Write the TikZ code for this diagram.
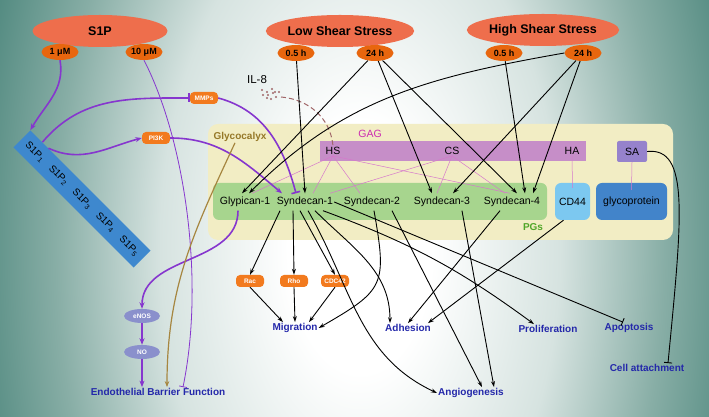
\documentclass[tikz,border=0pt]{standalone}
\usepackage{fontspec}
\setmainfont{Liberation Sans}
\usetikzlibrary{shapes,arrows.meta,positioning,calc}

\definecolor{bgteal}{RGB}{76,134,124}
\definecolor{bgmid}{RGB}{136,174,166}
\definecolor{bglight}{RGB}{214,227,224}
\definecolor{coral}{RGB}{238,110,76}
\definecolor{dosecol}{RGB}{232,102,14}
\definecolor{kincol}{RGB}{242,122,30}
\definecolor{recblue}{RGB}{62,136,206}
\definecolor{purp}{RGB}{134,54,206}
\definecolor{olive}{RGB}{166,134,64}
\definecolor{ildash}{RGB}{160,102,104}
\definecolor{pinkln}{RGB}{214,120,204}
\definecolor{glyfill}{RGB}{242,237,196}
\definecolor{gagfill}{RGB}{198,142,200}
\definecolor{safill}{RGB}{150,130,204}
\definecolor{pgfill}{RGB}{167,213,142}
\definecolor{cdfill}{RGB}{124,200,240}
\definecolor{gpfill}{RGB}{66,132,202}
\definecolor{outblue}{RGB}{36,40,170}
\definecolor{lav}{RGB}{138,144,204}
\definecolor{gagtext}{RGB}{204,44,176}
\definecolor{pgtext}{RGB}{80,166,40}
\definecolor{glytext}{RGB}{150,120,40}

% the middle 50bp square of a shading is fitted to the path
\pgfdeclareradialshading{bgglow}{\pgfpoint{0bp}{0bp}}{color(0bp)=(white); color(4.5bp)=(white); color(12.5bp)=(bglight); color(19bp)=(bgmid); color(25bp)=(bgteal); color(50bp)=(bgteal)}

\tikzset{
  stress/.style={ellipse, fill=coral, minimum width=135pt, minimum height=32pt, inner sep=0pt, font=\fontsize{12.5}{14}\selectfont\bfseries},
  dose/.style={ellipse, fill=dosecol, minimum width=37pt, minimum height=16pt, inner sep=0pt, font=\fontsize{9}{10}\selectfont\bfseries},
  kinase/.style={fill=kincol, rounded corners=4pt, text=white, minimum width=28pt, minimum height=12pt, inner sep=1pt, font=\fontsize{6.5}{7}\selectfont\bfseries},
  enzyme/.style={ellipse, fill=lav, text=white, minimum width=36pt, minimum height=14pt, inner sep=0pt, font=\fontsize{6.5}{7}\selectfont\bfseries},
  member/.style={minimum height=17pt, inner sep=1pt, font=\fontsize{10.5}{12}\selectfont},
  tag/.style={inner sep=1pt, font=\fontsize{10.5}{12}\selectfont},
  outcome/.style={text=outblue, inner sep=1pt, font=\fontsize{10}{12}\selectfont\bfseries},
  blk/.style={line width=0.9pt, -{Stealth[length=6pt,width=4pt]}},
  inh/.style={line width=0.9pt, -{Bar[width=8pt]}},
  pth/.style={purp, line width=1.6pt, -{Stealth[length=6.5pt,width=5pt]}},
  pinh/.style={purp, line width=1.6pt, -{Bar[width=9pt]}},
  pink/.style={pinkln, line width=0.5pt},
}

\begin{document}
\begin{tikzpicture}[x=1pt,y=1pt]
    \useasboundingbox (0,0) rectangle (709,417);
    % background
    \begin{scope}
      \clip (0,0) rectangle (709,417);
      \shade[shading=bgglow] (-40,-530) rectangle (760,870);
    \end{scope}

    % Glycocalyx layer
    \node[fill=glyfill, rounded corners=10pt, minimum width=465pt, minimum height=116pt, inner sep=0pt] (glyx) at (440.5,235) {};
    \node[fill=gagfill, minimum width=266pt, minimum height=20pt, inner sep=0pt] (gag) at (453,266) {};
    \node[fill=pgfill, rounded corners=6pt, minimum width=334pt, minimum height=37pt, inner sep=0pt] (pgs) at (380,215.5) {};
    \node[fill=safill, rounded corners=2pt, minimum width=30pt, minimum height=21pt, inner sep=0pt, font=\fontsize{10.5}{12}\selectfont] (sa) at (632,265.5) {SA};
    \node[fill=cdfill, rounded corners=6pt, minimum width=35pt, minimum height=37pt, inner sep=0pt, font=\fontsize{10.5}{12}\selectfont] (cd44) at (572.5,215.5) {CD44};
    \node[fill=gpfill, rounded corners=6pt, minimum width=71pt, minimum height=37pt, inner sep=0pt, font=\fontsize{10.5}{12}\selectfont] (gp) at (631.5,215.5) {glycoprotein};
    \node[text=glytext, inner sep=1pt, font=\fontsize{10}{12}\selectfont\bfseries] (glylab) at (240,280) {Glycocalyx};
    \node[text=gagtext, tag] (gaglab) at (370,283) {GAG};
    \node[text=pgtext, inner sep=1pt, font=\fontsize{10}{12}\selectfont\bfseries] (pgslab) at (533,190) {PGs};
    \node[tag] (hs) at (333,266) {HS};
    \node[tag] (cs) at (452,266) {CS};
    \node[tag] (ha) at (572,266) {HA};

    % PGs
    \node[member] (glyp) at (245,215) {Glypican-1};
    \node[member] (syn1) at (305,215) {Syndecan-1};
    \node[member] (syn2) at (372,215) {Syndecan-2};
    \node[member] (syn3) at (442,215) {Syndecan-3};
    \node[member] (syn4) at (512,215) {Syndecan-4};

    % stimuli
    \node[stress] (s1p) at (100,386) {S1P};
    \node[dose] (d1) at (60,365) {1 μM};
    \node[dose] (d10) at (144,365) {10 μM};
    \node[stress] (lss) at (340,386) {Low Shear Stress};
    \node[dose] (ls05) at (296,364) {0.5 h};
    \node[dose] (ls24) at (375,364) {24 h};
    \node[stress] (hss) at (543,387) {High Shear Stress};
    \node[dose] (hs05) at (504,364) {0.5 h};
    \node[dose] (hs24) at (583,364) {24 h};

    % S1P receptors
    \node[fill=recblue, rotate=-45, minimum width=170pt, minimum height=24pt, inner sep=0pt, font=\fontsize{10}{12}\selectfont] (rec) at (82,218)
      {S1P\textsubscript{1}\hspace{10pt}S1P\textsubscript{2}\hspace{10pt}S1P\textsubscript{3}\hspace{10pt}S1P\textsubscript{4}\hspace{10pt}S1P\textsubscript{5}};

    % signalling molecules
    \node[kinase] (mmp) at (204,319) {MMPs};
    \node[kinase] (pi3k) at (156,279) {PI3K};
    \node[kinase] (rac) at (250,136) {Rac};
    \node[kinase] (rho) at (294,136) {Rho};
    \node[kinase] (cdc) at (335,136) {CDC42};
    \node[enzyme] (enos) at (142,101) {eNOS};
    \node[enzyme] (no) at (142,65) {NO};
    \node[inner sep=1pt, font=\fontsize{11.5}{13}\selectfont] (il8) at (257,337) {IL-8};
    \coordinate (il8c) at (271,323);
    \coordinate (il8tail) at (281,320);
    \foreach \dx/\dy in {-9/4,-4/2,1/5,4/2,8/2,-8/-1,-3/-1,2/1,-4/-4,0/-5,5/-3}
      \fill[ildash] ($(il8c)+(\dx,\dy)$) circle (1.2pt);

    % outcomes
    \node[outcome] (ebf) at (158,25) {Endothelial Barrier Function};
    \node[outcome] (mig) at (295,89) {Migration};
    \node[outcome] (adh) at (408,89) {Adhesion};
    \node[outcome] (pro) at (548,88) {Proliferation};
    \node[outcome] (apo) at (629,89) {Apoptosis};
    \node[outcome] (cell) at (647,49) {Cell attachment};
    \node[outcome] (ang) at (471,24) {Angiogenesis};

    % GAG chains
    \draw[pink] (hs.south) -- ([xshift=7pt]glyp.north);
    \draw[pink] (hs.south) -- ([xshift=8pt]syn1.north);
    \draw[pink] (hs.south) -- ([xshift=-12pt]syn2.north);
    \draw[pink] (hs.south) -- ([xshift=-2pt]syn4.north);
    \draw[pink] (cs.south) -- ([xshift=25pt]syn1.north);
    \draw[pink] (cs.south) -- ([xshift=-5pt]syn3.north);
    \draw[pink] (cs.south) -- ([xshift=-7pt]syn4.north);
    \draw[pink] (ha.south) -- ([yshift=-5pt]cd44.north);
    \draw[pink] (sa.south) -- ([yshift=-7pt]gp.north);

    % S1P pathway
    \draw[pth] (d1.south) to[out=-80,in=60] (rec.north west);
    \draw[purp, line width=0.8pt, -{Bar[width=8pt]}] (d10.south) .. controls (185,277) and (205,137) .. ([xshift=25pt]ebf.north);
    \draw[pinh] ($(rec.north west)!0.1!(rec.north east)$) to[out=50,in=180] (mmp.west);
    \draw[pth] ($(rec.north west)!0.15!(rec.north east)$) to[out=-25,in=195] (pi3k.west);
    \draw[pth] (pi3k.east) to[out=0,in=140] ([xshift=-23pt]syn1.north);
    \draw[pinh] (mmp.east) to[out=-15,in=105] ([xshift=-9pt]syn1.north);
    \draw[pth] ([xshift=-7pt]glyp.south) to[out=-90,in=90] (enos.north);
    \draw[pth] (enos) -- (no);
    \draw[pth] (no) -- (no |- ebf.north);
    \draw[olive, line width=1.2pt, -{Stealth[length=6pt,width=4.5pt]}] ([xshift=-5pt]glylab.south) to[out=-115,in=90] ([xshift=9pt]ebf.north);
    \draw[ildash, line width=1pt, dash pattern=on 5pt off 3pt] (il8tail) to[out=-5,in=95] (hs.north);

    % shear stress
    \draw[blk] (ls05) -- (syn1.north);
    \draw[blk] (ls24) -- ([xshift=-3pt]glyp.north);
    \draw[blk] (ls24) -- ([xshift=-10pt]syn3.north);
    \draw[blk] (ls24) -- ([xshift=5pt]syn4.north);
    \draw[blk] (hs05) -- ([xshift=13pt]syn4.north);
    \draw[blk] (hs24) -- ([xshift=21pt]syn4.north);
    \draw[blk] (hs24) -- ([xshift=11pt]syn3.north);
    \draw[blk] (hs24.west) to[out=190,in=45] ([xshift=4pt]glyp.north);

    % downstream effects
    \draw[blk] ([xshift=-25pt]syn1.south) -- (rac.north);
    \draw[blk] ([xshift=-12pt]syn1.south) -- (rho.north);
    \draw[blk] ([xshift=-5pt]syn1.south) -- (cdc.north);
    \draw[blk] (rac.south) -- ([xshift=-12pt]mig.north);
    \draw[blk] (rho.south) -- (mig.north);
    \draw[blk] (cdc.south) -- ([xshift=14pt]mig.north);
    \draw[blk] ([xshift=3pt]syn1.south) to[out=-60,in=155] (ang.west);
    \draw[blk] ([xshift=10pt]syn1.south) to[out=-45,in=90] ([xshift=-18pt]adh.north);
    \draw[blk] ([xshift=18pt]syn1.south) to[bend left=8] ([xshift=-14pt]pro.north);
    \draw[inh] (syn1.east) -- ([xshift=-6pt]apo.north);
    \draw[blk] ([xshift=2pt]syn2.south) to[out=-80,in=30,looseness=1.5] (mig.east);
    \draw[blk] ([xshift=20pt]syn2.south) -- ([xshift=11pt]ang.north);
    \draw[blk] ([xshift=20pt]syn3.south) -- ([xshift=23pt]ang.north);
    \draw[blk] ([xshift=-12pt]syn4.south) -- (adh.north);
    \draw[blk] ([xshift=-9pt]cd44.south) -- ([xshift=20pt]adh.north);
    \draw[inh] (sa.east) .. controls (690,270) and (682,200) .. ([xshift=21pt]cell.north);
\end{tikzpicture}
\end{document}
